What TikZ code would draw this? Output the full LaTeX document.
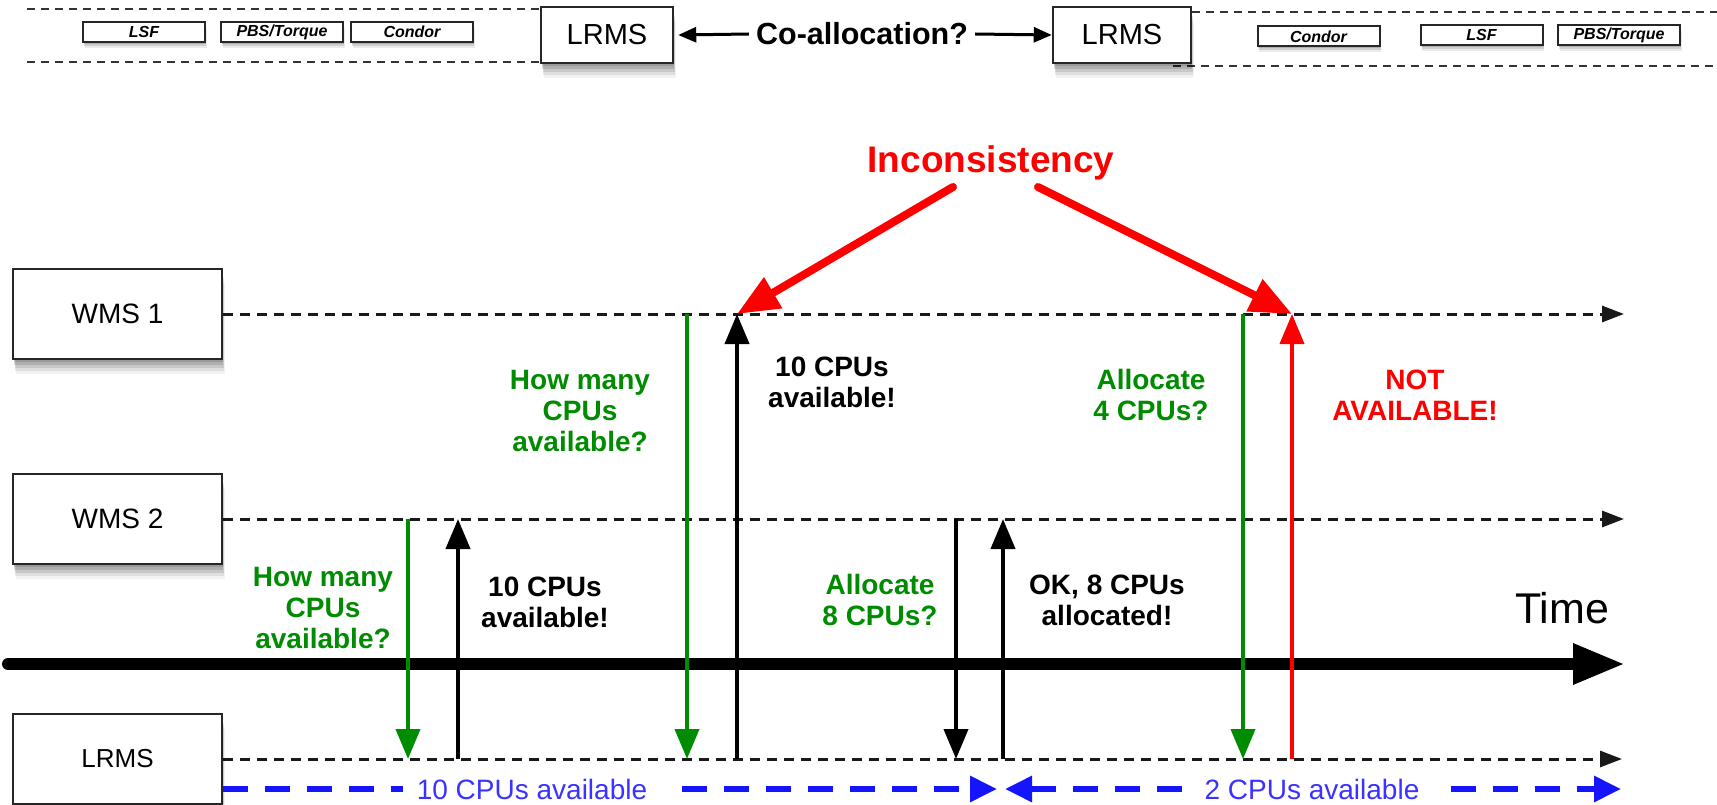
\documentclass[tikz,border=0pt]{standalone}
\usepackage{fontspec}
\setmainfont{Liberation Sans}
\usetikzlibrary{arrows.meta,shadows}

\definecolor{msggreen}{RGB}{0,140,0}
\definecolor{msgred}{RGB}{255,0,0}
\definecolor{spanblue}{RGB}{20,20,255}
\definecolor{spantext}{RGB}{60,50,255}

\begin{document}
\begin{tikzpicture}[x=1pt,y=-1pt,
  softshadow/.style={
    drop shadow={shadow xshift=0.5pt,shadow yshift=-3pt,opacity=.12,fill=black},
    drop shadow={shadow xshift=1pt,shadow yshift=-6pt,opacity=.12,fill=black},
    drop shadow={shadow xshift=1.5pt,shadow yshift=-9pt,opacity=.10,fill=black},
    drop shadow={shadow xshift=2pt,shadow yshift=-12pt,opacity=.08,fill=black},
    drop shadow={shadow xshift=2.5pt,shadow yshift=-15pt,opacity=.05,fill=black}},
  smallshadow/.style={
    drop shadow={shadow xshift=0.5pt,shadow yshift=-2pt,opacity=.15,fill=black},
    drop shadow={shadow xshift=1pt,shadow yshift=-4pt,opacity=.12,fill=black},
    drop shadow={shadow xshift=1.5pt,shadow yshift=-6pt,opacity=.08,fill=black}},
  actorbox/.style={draw=black!85,line width=2.5pt,fill=white,minimum width=209pt,
    minimum height=90pt,inner sep=0pt,softshadow,font=\fontsize{28}{30}\selectfont},
  lrmsbox/.style={draw=black!85,line width=2.5pt,fill=white,minimum height=56pt,
    inner sep=0pt,softshadow,font=\fontsize{29}{30}\selectfont},
  sysbox/.style={draw=black!85,line width=2pt,fill=white,minimum width=122pt,
    minimum height=20pt,inner sep=0pt,smallshadow,
    font=\bfseries\itshape\fontsize{16}{16}\selectfont},
  stripdash/.style={draw=black!80,line width=1.6pt,dash pattern=on 8pt off 6pt},
  coarrow/.style={line width=3pt,-{Triangle[length=18pt,width=15pt]}},
  timeline/.style={draw=black!90,line width=3pt,dash pattern=on 10pt off 7pt,
    -{Triangle[length=22pt,width=16pt]}},
  timeaxis/.style={line width=12pt,line cap=round,-{Triangle[length=52pt,width=38pt]}},
  msg/.style={line width=4pt,-{Triangle[length=30pt,width=24pt]}},
  lbl/.style={align=center,inner sep=0pt,font=\bfseries\fontsize{28}{31}\selectfont},
  incarrow/.style={draw=msgred,line width=8pt,line cap=round,
    -{Triangle[length=42pt,width=34pt]}},
  spanline/.style={draw=spanblue,line width=6pt,dash pattern=on 25pt off 17pt},
  spantip/.style={-{Triangle[length=27pt,width=25pt]}},
  spanlbl/.style={text=spantext,inner ysep=2pt,font=\fontsize{28}{30}\selectfont}
]
\fill[white] (0,0) rectangle (1717,805);
\useasboundingbox (0,0) rectangle (1717,805);

% ---------- top strip: two resource managers ----------
\coordinate (lt) at (27,9);
\coordinate (lb) at (27,62);
\coordinate (rt) at (1717,12);
\coordinate (rb1) at (1173,66);
\coordinate (rb2) at (1717,66);
\draw[stripdash] (lt) -- (541,9);
\draw[stripdash] (lb) -- (541,62);
\draw[stripdash] (rb1) -- (rb2);

\node[sysbox] (lsfL) at (144,32) {LSF};
\node[sysbox] (pbsL) at (282,32) {PBS/Torque};
\node[sysbox] (conL) at (412,32) {Condor};
\node[lrmsbox,minimum width=132pt] (lrmsL) at (607,35) {LRMS};
\node[lrmsbox,minimum width=138pt] (lrmsR) at (1122,35) {LRMS};
\draw[stripdash] (lrmsR.east |- rt) -- (rt);
\node[sysbox] (conR) at (1318.5,36.5) {Condor};
\node[sysbox] (lsfR) at (1481.5,35) {LSF};
\node[sysbox] (pbsR) at (1619,35) {PBS/Torque};

\node[inner sep=0pt,font=\bfseries\fontsize{30.5}{31}\selectfont] (coalloc) at (862,34) {Co-allocation?};
\draw[coarrow] ([xshift=-7pt]coalloc.west) -- ([xshift=4pt]lrmsL.east);
\draw[coarrow] ([xshift=7pt]coalloc.east) -- (lrmsR.west);

% ---------- actors and their time lines ----------
\node[actorbox] (wms1) at (117.5,314) {WMS 1};
\node[actorbox] (wms2) at (117.5,519) {WMS 2};
\node[actorbox,font=\fontsize{26}{28}\selectfont] (lrms) at (117.5,759) {LRMS};

\coordinate (w1end) at (1624,314);
\coordinate (w2end) at (1624,519);
\coordinate (l3end) at (1622,759);
\draw[timeline] (wms1.east) -- (w1end);
\draw[timeline] (wms2.east) -- (w2end);
\draw[timeline] (lrms.east) -- (l3end);

% global time axis
\coordinate (t0) at (8,664);
\coordinate (t1) at (1625,664);
\draw[timeaxis] (t0) -- (t1);
\node[anchor=base,inner sep=0pt,font=\fontsize{43}{43}\selectfont] (timelbl) at (1562,623) {Time};

% ---------- messages ----------
\foreach \n/\x in {a/408,b/458,c/687,d/737,e/956,f/1003,g/1243,h/1292}{
  \coordinate (\n1) at (\x,314);
  \coordinate (\n2) at (\x,519);
  \coordinate (\n3) at (\x,759);
}
\draw[msg,msggreen] (a2) -- (a3);
\draw[msg] (b3) -- (b2);
\draw[msg,msggreen] (c1) -- (c3);
\draw[msg] (d3) -- (d1);
\draw[msg] (e2) -- (e3);
\draw[msg] (f3) -- (f2);
\draw[msg,msggreen] (g1) -- (g3);
\draw[msg,msgred] (h3) -- (h1);

\node[lbl,text=msggreen] (q1) at (323,608) {How many\\CPUs\\available?};
\node[lbl] (r1) at (545,602) {10 CPUs\\available!};
\node[lbl,text=msggreen] (q2) at (580,411) {How many\\CPUs\\available?};
\node[lbl] (r2) at (832,382) {10 CPUs\\available!};
\node[lbl,text=msggreen] (q3) at (880,600) {Allocate\\8 CPUs?};
\node[lbl] (r3) at (1107,600) {OK, 8 CPUs\\allocated!};
\node[lbl,text=msggreen] (q4) at (1151,395) {Allocate\\4 CPUs?};
\node[lbl,text=msgred] (r4) at (1415,395) {NOT\\AVAILABLE!};

% ---------- inconsistency callout ----------
\node[anchor=base,inner sep=0pt,text=msgred,font=\bfseries\fontsize{37}{40}\selectfont] (inc) at (991,173) {Inconsistency};
\coordinate (incL) at (953,187);
\coordinate (incR) at (1038,187);
\draw[incarrow] (incL) -- (d1);
\draw[incarrow] (incR) -- (h1);

% ---------- availability spans ----------
\node[spanlbl,inner xsep=14pt] (span1) at (532,789) {10 CPUs available};
\node[spanlbl,inner xsep=22pt] (span2) at (1312,789) {2 CPUs available};
\coordinate (s1end) at (997,789);
\coordinate (s2start) at (1005,789);
\coordinate (s2end) at (1621,789);
\draw[spanline] (lrms.east |- span1) -- (span1.west);
\draw[spanline,spantip] ([xshift=21pt]span1.east) -- (s1end);
\draw[spanline,spantip] (span2.west) -- (s2start);
\draw[spanline,spantip] ([xshift=9pt]span2.east) -- (s2end);
\end{tikzpicture}
\end{document}
